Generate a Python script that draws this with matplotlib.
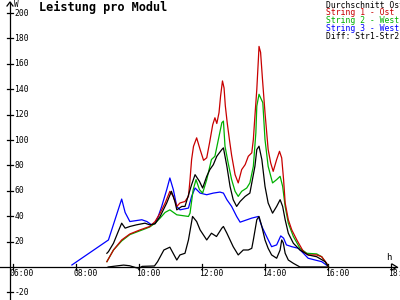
import matplotlib
matplotlib.use("Agg")
import matplotlib.pyplot as plt

# ---------------- data (hours, W) ----------------
blue_t = [7.87, 9.03, 9.45, 9.56, 9.71, 10.09, 10.25, 10.40, 10.51, 10.61, 10.72, 10.88, 10.98,
          11.09, 11.20, 11.30, 11.57, 11.67, 11.78, 11.94, 12.15, 12.36, 12.57, 12.68, 12.79,
          12.94, 13.10, 13.21, 13.58, 13.79, 13.90, 14.05, 14.21, 14.37, 14.50, 14.59, 14.68,
          14.85, 15.06, 15.22, 15.37, 15.59, 15.80, 15.98]
blue_v = [1.6, 21.3, 53.5, 42.9, 35.8, 37.2, 35.8, 33.2, 34.5, 39.8, 47.7, 60.9, 70.1,
          60.9, 47.7, 45, 46.4, 55.6, 62.2, 58.2, 56.9, 58.2, 59, 58.2, 53,
          47.7, 39.8, 35.3, 38.5, 39.8, 31.9, 24, 16, 17.4, 24.5, 22.7, 17.4,
          16, 14.7, 10.8, 6.9, 5.5, 4.2, 1]

red_t = [8.98, 9.19, 9.45, 9.71, 10.03, 10.19, 10.34, 10.51, 10.67, 10.83, 10.98, 11.09, 11.20,
         11.30, 11.46, 11.57, 11.62, 11.67, 11.73, 11.83, 11.94, 12.05, 12.15, 12.24, 12.34,
         12.41, 12.47, 12.54, 12.59, 12.65, 12.70, 12.74, 12.80, 12.87, 12.94, 13.05, 13.15,
         13.26, 13.37, 13.47, 13.58, 13.63, 13.68, 13.74, 13.79, 13.81, 13.86, 13.92, 14.00,
         14.10, 14.18, 14.26, 14.37, 14.46, 14.53, 14.59, 14.64, 14.74, 14.85, 15.01, 15.22,
         15.37, 15.64, 15.80, 15.96, 16.01]
red_v = [4.2, 13.4, 21.3, 26, 29.2, 30.6, 31.9, 35.8, 42.4, 50.4, 59.6, 55.6, 47.7,
         50.4, 51.6, 55.6, 68.8, 84.6, 95, 101.7, 92.5, 84, 86, 97.8, 112,
         117.5, 113, 121.5, 134.6, 146.5, 141, 127, 113.6, 100.4, 88, 72.7, 66.2,
         76.7, 80.6, 87.2, 89.9, 100.4, 118.8, 140, 163.6, 173.7, 169, 147.8, 121.5,
         92.5, 82, 75.3, 84.6, 91.1, 85.9, 68.8, 50.4, 37.2, 29.2, 21.3, 12.1,
         9.5, 9.5, 8.1, 2.9, 0]

green_t = [8.98, 9.19, 9.45, 9.71, 10.03, 10.19, 10.34, 10.51, 10.67, 10.83, 10.98, 11.20, 11.57,
           11.62, 11.72, 11.81, 11.92, 12.02, 12.15, 12.30, 12.41, 12.52, 12.63, 12.68, 12.73,
           12.83, 12.94, 13.05, 13.15, 13.26, 13.42, 13.52, 13.63, 13.71, 13.74, 13.81, 13.93,
           14.00, 14.10, 14.24, 14.37, 14.48, 14.56, 14.64, 14.74, 14.90, 15.11, 15.33, 15.64,
           15.80, 16.02]
green_v = [4.2, 13.4, 20.5, 25.5, 28.5, 30, 31.5, 34.5, 38.5, 43, 45, 41.1, 39.8,
           42.4, 60.9, 68.8, 60.9, 58.2, 68.8, 84.6, 87.2, 100.4, 113.6, 114.9, 95.1,
           82, 68.8, 59.6, 55.6, 59.6, 62.2, 66.2, 79.3, 105.7, 126.7, 136, 129.4,
           100.4, 79.3, 66.2, 68.8, 71.4, 63.5, 47.7, 34.5, 24, 14.7, 10.8, 10.3,
           8.1, 0]

avg_t = [8.98, 9.03, 9.19, 9.34, 9.45, 9.56, 9.71, 9.92, 10.19, 10.34, 10.51, 10.67, 10.88,
         11.03, 11.14, 11.20, 11.36, 11.46, 11.67, 11.78, 11.92, 12.02, 12.15, 12.25, 12.36,
         12.47, 12.63, 12.68, 12.79, 12.89, 12.99, 13.10, 13.21, 13.37, 13.52, 13.68, 13.74,
         13.81, 13.90, 14.00, 14.10, 14.24, 14.37, 14.48, 14.56, 14.64, 14.74, 14.90, 15.11,
         15.37, 15.64, 15.91, 16.02]
avg_v = [10.8, 12.1, 18.7, 27.9, 34.5, 30.6, 31.9, 33.2, 34.5, 33.2, 34, 39.8, 50.4,
         59.6, 51.6, 45, 47.7, 47.7, 64.8, 72.7, 67.4, 62.2, 71.4, 76.7, 80.6,
         87.2, 92.5, 93.8, 79.3, 63.5, 53, 47.7, 51.6, 55.6, 58.2, 79.3, 92.5,
         95.1, 84.6, 63.5, 50.4, 42.4, 47.7, 53, 47.7, 37.2, 26.6, 18.7, 13.4,
         9.5, 8.1, 4.2, 0]

diff_t = [9.02, 9.18, 9.51, 9.70, 9.90, 10.00, 10.10, 10.49, 10.59, 10.79, 10.98, 11.20, 11.30,
          11.46, 11.57, 11.70, 11.83, 11.94, 12.15, 12.30, 12.46, 12.63, 12.68, 12.79, 12.99,
          13.15, 13.31, 13.47, 13.58, 13.63, 13.74, 13.81, 13.90, 14.00, 14.10, 14.21, 14.37,
          14.48, 14.53, 14.58, 14.64, 14.74, 14.90, 15.11, 16.01]
diff_v = [0, 0.5, 1.5, 1, -0.5, -1, 0.5, 0.8, 4.2, 13.4, 15.6, 5.5, 9.5,
          10.8, 21.3, 39.8, 35.8, 29.2, 21.3, 26.6, 24, 30.6, 31.9, 26.6, 16,
          9.5, 13.4, 13.4, 14.7, 21.3, 37.2, 39.8, 31.9, 21.3, 14.7, 9.5, 6.9,
          13.4, 21.3, 19, 10.8, 5.5, 2.9, 0, 0]

legend_labels = ["Durchschnitt Ost", "String 1 - Ost", "String 2 - West",
                 "String 3 - West", "Diff: Str1-Str2"]
legend_colors = ["#000000", "#c80000", "#00b000", "#0000ff", "#000000"]
x_ticks = [6, 8, 10, 12, 14, 16, 18]
x_tick_labels = ["06:00", "08:00", "10:00", "12:00", "14:00", "16:00", "18:00"]
y_ticks = [-20, 20, 40, 60, 80, 100, 120, 140, 160, 180, 200]

# ---------------- layout helpers (pixel -> data) ----------------
def px2h(px):
    return 12 + (px - 202) / 31.5

def py2v(py):
    return (267 - py) / 1.27

fig = plt.figure(figsize=(4, 3), dpi=100)
ax = fig.add_axes([0, 0, 1, 1])
ax.set_xlim(px2h(0), px2h(400))
ax.set_ylim(py2v(300), py2v(0))
ax.axis("off")

mono = "DejaVu Sans Mono"
lw = 0.9

# axes lines
ax.plot([px2h(0), px2h(397)], [0, 0], color="black", lw=lw)
ax.plot([px2h(10), px2h(10)], [py2v(300), py2v(2)], color="black", lw=lw)
# arrows
ax.plot([px2h(392), px2h(397), px2h(392)], [py2v(264), 0, py2v(270)], color="black", lw=lw)
ax.plot([px2h(7), px2h(10), px2h(13)], [py2v(6), py2v(2), py2v(6)], color="black", lw=lw)

# ticks
for t, lab in zip(x_ticks, x_tick_labels):
    ax.plot([t, t], [py2v(264), py2v(270)], color="black", lw=lw)
    ax.text(t - 3 / 31.5, py2v(273.5), lab, fontsize=5.8, family=mono,
            ha="left", va="center", clip_on=False)
for v in y_ticks:
    ax.plot([px2h(7), px2h(13)], [v, v], color="black", lw=lw)
    ax.text(px2h(14.5), v, str(v), fontsize=5.8, family=mono,
            ha="left", va="center")

ax.text(px2h(14.5), py2v(4), "W", fontsize=5.5, family=mono, ha="left", va="center")
ax.text(px2h(386), py2v(258), "h", fontsize=6.5, family=mono, ha="left", va="center")

# title
ax.text(px2h(39), py2v(7.5), "Leistung pro Modul", fontsize=8.6, family=mono,
        fontweight="bold", ha="left", va="center")

# legend
for i, (lab, col) in enumerate(zip(legend_labels, legend_colors)):
    ax.text(px2h(325.5), py2v(5 + 7.8 * i), lab, fontsize=5.85, family=mono,
            color=col, ha="left", va="center")

# series
ax.plot(blue_t, blue_v, color="#0000ff", lw=lw)
ax.plot(diff_t, diff_v, color="black", lw=lw)
ax.plot(green_t, green_v, color="#00b000", lw=lw)
ax.plot(red_t, red_v, color="#c80000", lw=lw)
ax.plot(avg_t, avg_v, color="black", lw=lw)

fig.savefig("out.png", dpi=100, facecolor="white")
